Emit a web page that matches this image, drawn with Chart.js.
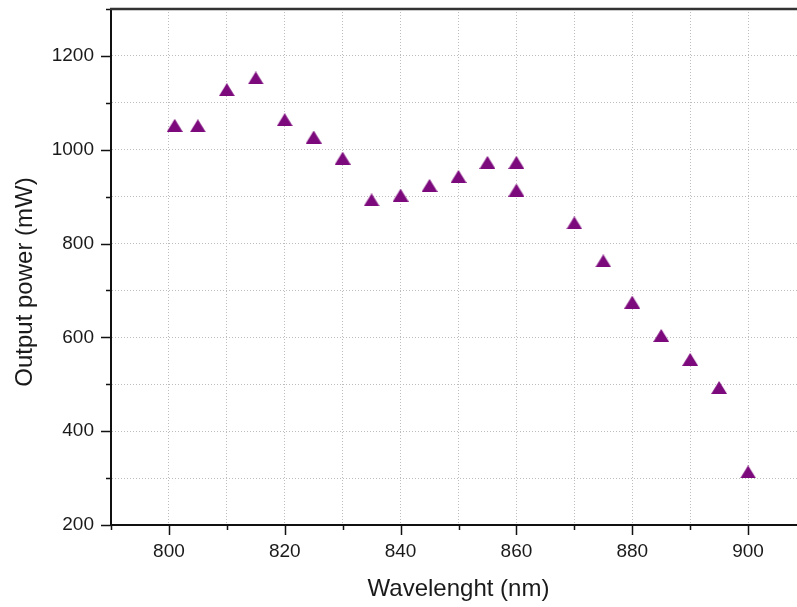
<!DOCTYPE html>
<html>
<head>
<meta charset="utf-8">
<script src="https://cdn.jsdelivr.net/npm/chart.js@4/dist/chart.umd.min.js"></script>
<style>
  html, body { margin: 0; padding: 0; background: #fff; overflow: hidden; }
  #wrap { width: 812px; height: 607px; }
</style>
</head>
<body>
<div id="wrap"><canvas id="c" width="812" height="607"></canvas></div>
<script>
// Measured output power of the laser across its tuning range
const wavelengths = [801, 805, 810, 815, 820, 825, 830, 835, 840, 845, 850, 855, 860, 860, 870, 875, 880, 885, 890, 895, 900];
const outputPower = [1052, 1051, 1128, 1153, 1064, 1027, 982, 893, 903, 924, 943, 973, 973, 914, 844, 763, 675, 604, 553, 493, 313];

const xTitle = 'Wavelenght (nm)';
const yTitle = 'Output power (mW)';

const font = 'Liberation Sans, Arial, sans-serif';

// Filled triangle marker
function triangleMarker(w, h, color) {
  const cv = document.createElement('canvas');
  cv.width = w; cv.height = h;
  const g = cv.getContext('2d');
  g.fillStyle = color;
  g.beginPath();
  g.moveTo(w / 2, 0);
  g.lineTo(w, h);
  g.lineTo(0, h);
  g.closePath();
  g.fill();
  return cv;
}
const marker = triangleMarker(16, 13, '#7d0a7d');

// Outward major/minor tick marks, the top frame line and the vertical axis title
const frame = {
  id: 'frame',
  afterDraw(chart) {
    const { ctx, chartArea: { left, right, top, bottom }, scales: { x, y } } = chart;
    ctx.save();
    ctx.strokeStyle = '#111';
    ctx.lineWidth = 1.5;
    ctx.beginPath();
    x.ticks.forEach(t => {
      const px = Math.round(x.getPixelForValue(t.value)) + 0.5;
      const len = t.value % 20 === 0 ? 10 : 5;
      ctx.moveTo(px, bottom);
      ctx.lineTo(px, bottom + len);
    });
    y.ticks.forEach(t => {
      const py = Math.round(y.getPixelForValue(t.value)) + 0.5;
      const len = t.value % 200 === 0 ? 10 : 5;
      ctx.moveTo(left, py);
      ctx.lineTo(left - len, py);
    });
    ctx.stroke();

    ctx.strokeStyle = '#333';
    ctx.lineWidth = 2.5;
    ctx.beginPath();
    ctx.moveTo(left - 1, top);
    ctx.lineTo(right, top);
    ctx.stroke();

    // y title, centred a little below the middle of the plot
    ctx.translate(25, (top + bottom) / 2 + 15);
    ctx.rotate(-Math.PI / 2);
    ctx.fillStyle = '#1a1a1a';
    ctx.font = '24px ' + font;
    ctx.textAlign = 'center';
    ctx.textBaseline = 'middle';
    ctx.fillText(yTitle, 0, 0);
    ctx.restore();
  }
};

new Chart(document.getElementById('c'), {
  type: 'scatter',
  data: {
    datasets: [{
      data: wavelengths.map((w, i) => ({ x: w, y: outputPower[i] })),
      pointStyle: marker,
      pointRadius: 8,
      backgroundColor: '#7d0a7d',
      borderColor: '#7d0a7d'
    }]
  },
  options: {
    responsive: false,
    animation: false,
    events: [],
    layout: { autoPadding: false, padding: { left: 0, top: 9, right: 6, bottom: 0 } },
    plugins: { legend: { display: false }, tooltip: { enabled: false } },
    scales: {
      x: {
        type: 'linear',
        min: 790,
        max: 910,
        afterFit(s) { s.height = 82; s.paddingLeft = 0; s.paddingRight = 0; },
        ticks: {
          stepSize: 10,
          autoSkip: false,
          maxRotation: 0,
          padding: 15,
          color: '#1a1a1a',
          font: { family: font, size: 19 },
          callback: v => (v % 20 === 0 ? String(v) : '')
        },
        grid: { color: '#bdbdbd', lineWidth: 1, drawTicks: false },
        border: { color: '#111', width: 2, dash: [1, 2] },
        title: {
          display: true,
          text: xTitle,
          color: '#1a1a1a',
          font: { family: font, size: 24 },
          padding: { top: 13, bottom: 3 }
        }
      },
      y: {
        min: 200,
        max: 1300,
        afterFit(s) { s.width = 111; s.paddingTop = 0; s.paddingBottom = 0; },
        ticks: {
          stepSize: 100,
          padding: 17,
          color: '#1a1a1a',
          font: { family: font, size: 19 },
          callback: v => (v % 200 === 0 ? String(v) : '')
        },
        grid: { color: '#bdbdbd', lineWidth: 1, drawTicks: false },
        border: { color: '#111', width: 2, dash: [1, 2] }
      }
    }
  },
  plugins: [frame]
});
</script>
</body>
</html>
